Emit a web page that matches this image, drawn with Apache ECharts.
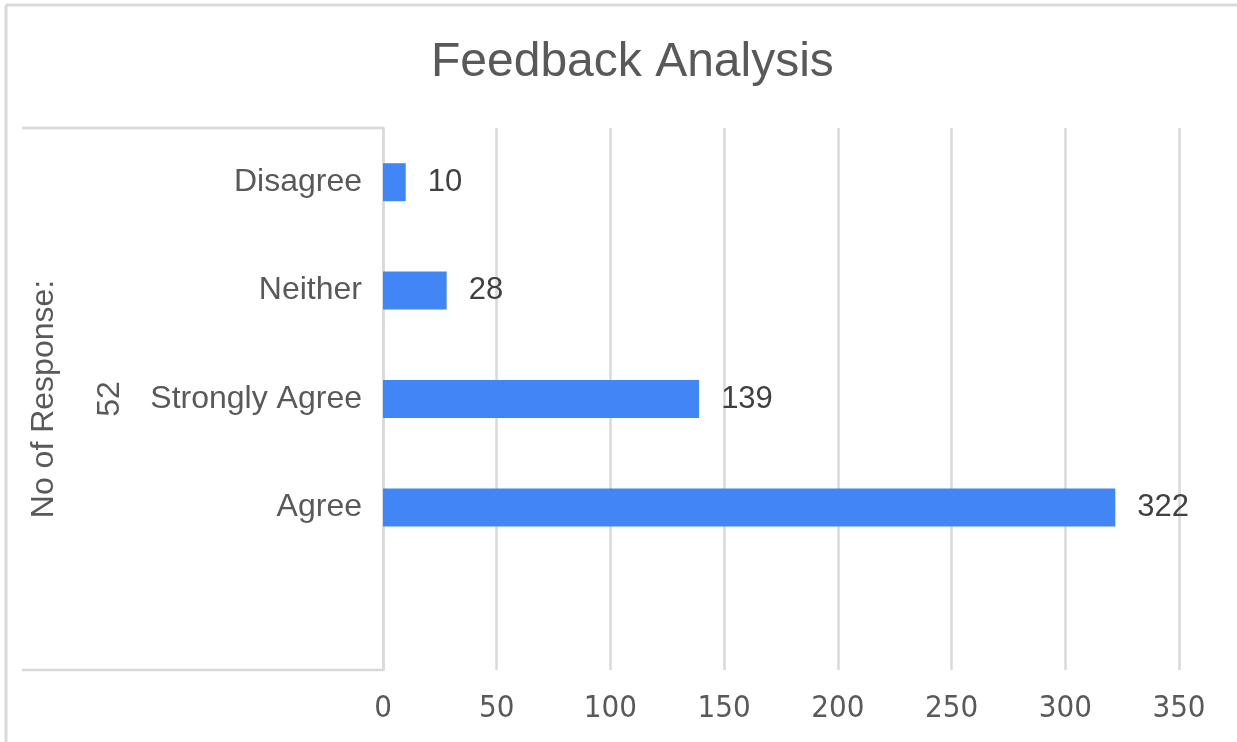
<!DOCTYPE html>
<html>
<head>
<meta charset="utf-8">
<script src="https://cdn.jsdelivr.net/npm/echarts@6/dist/echarts.min.js"></script>
<style>
  html, body { margin: 0; padding: 0; background: #fff; }
  #chart { width: 1237px; height: 742px; }
</style>
</head>
<body>
<div id="chart"></div>
<script>
// data, bottom slot first (ECharts draws category 0 at the bottom)
const categories = ['', 'Agree', 'Strongly Agree', 'Neither', 'Disagree']
const responses = [null, 322, 139, 28, 10]
const groupLabel = '52'
const outerLabel = 'No of Response:'
const xTicks = { min: 0, max: 350, step: 50 }

const grid = { left: 383, right: 58, top: 128, bottom: 72 }
const W = 1237, H = 742
const gray = '#d9d9d9'
const font = '"Liberation Sans", Arial, sans-serif'

const chart = echarts.init(document.getElementById('chart'))

const gTop = grid.top, gBottom = H - grid.bottom
chart.setOption({
  animation: false,
  backgroundColor: '#fff',
  title: {
    text: 'Feedback Analysis',
    left: 426,
    top: 34,
    textStyle: { fontFamily: font, fontSize: 48, fontWeight: 'normal', color: '#595959' },
  },
  grid: grid,
  xAxis: {
    type: 'value',
    min: xTicks.min,
    max: xTicks.max,
    interval: xTicks.step,
    axisLine: { show: false },
    axisTick: { show: false },
    axisLabel: {
      margin: 23,
      color: '#595959',
      fontSize: 31,
      fontFamily: '"Liberation Sans Narrow", "DejaVu Sans Condensed", Arial, sans-serif',
    },
    splitLine: { lineStyle: { color: gray, width: 2.5 } },
  },
  yAxis: [
    {
      type: 'category',
      data: categories,
      axisLine: { lineStyle: { color: gray, width: 2.5 } },
      axisTick: { show: false },
      axisLabel: { margin: 21, color: '#595959', fontSize: 32, fontFamily: font },
      name: outerLabel,
      nameLocation: 'middle',
      nameRotate: 90,
      nameGap: 323,
      nameTextStyle: { color: '#595959', fontSize: 32, fontFamily: font },
    },
    {
      type: 'category',
      data: categories,
      position: 'left',
      axisLine: { show: false },
      axisTick: { show: false },
      axisLabel: { show: false },
      name: groupLabel,
      nameLocation: 'middle',
      nameRotate: 90,
      nameGap: 257,
      nameTextStyle: { color: '#595959', fontSize: 32, fontFamily: font },
    },
  ],
  series: [
    {
      type: 'bar',
      data: responses,
      barWidth: 38,
      itemStyle: { color: '#4285F4' },
      label: {
        show: true,
        position: 'right',
        distance: 22,
        color: '#404040',
        fontSize: 31,
        fontFamily: font,
      },
    },
  ],
  graphic: [
    // chart border (top and left visible)
    { type: 'line', shape: { x1: 6, y1: 5, x2: W, y2: 5 }, style: { stroke: gray, lineWidth: 3 } },
    { type: 'line', shape: { x1: 6, y1: 5, x2: 6, y2: H }, style: { stroke: gray, lineWidth: 3 } },
    // multi-level category brackets
    { type: 'line', shape: { x1: 22, y1: gTop, x2: grid.left, y2: gTop }, style: { stroke: gray, lineWidth: 2.5 } },
    { type: 'line', shape: { x1: 22, y1: gBottom, x2: grid.left, y2: gBottom }, style: { stroke: gray, lineWidth: 2.5 } },
  ],
})
</script>
</body>
</html>
